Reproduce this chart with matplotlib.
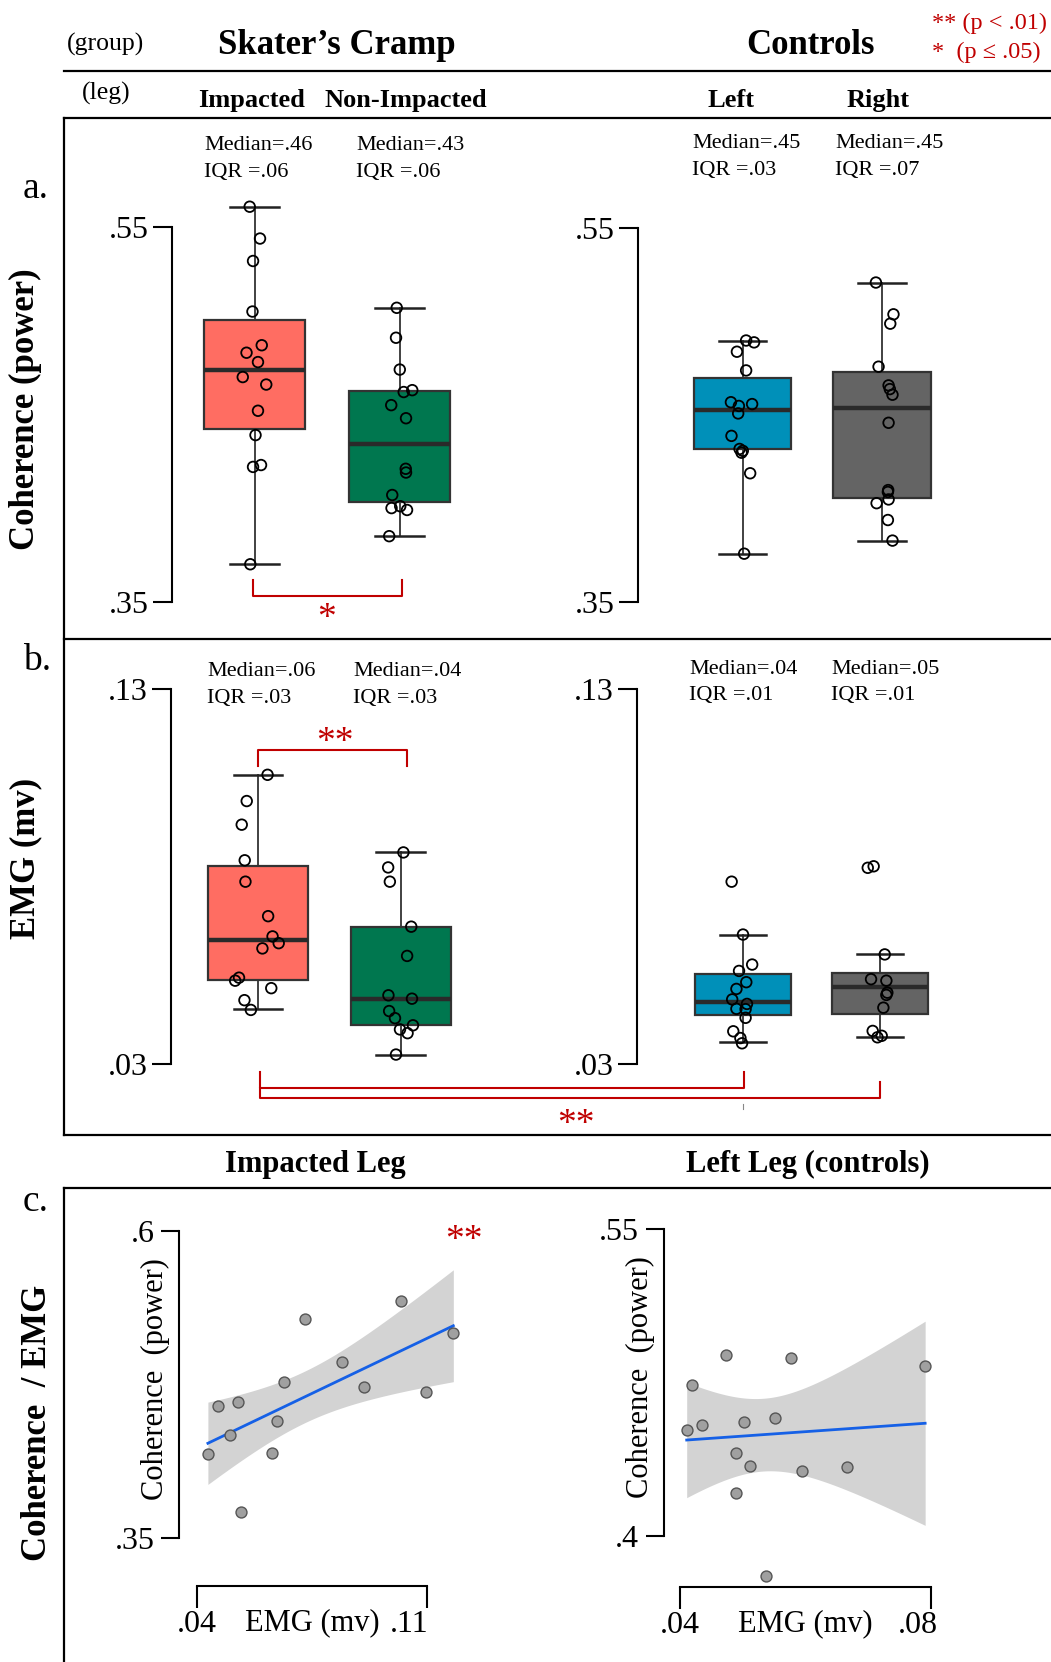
import numpy as np
import matplotlib
matplotlib.use('Agg')
import matplotlib.pyplot as plt
from matplotlib.transforms import ScaledTranslation

plt.rcParams['font.family'] = ['Liberation Serif', 'DejaVu Serif']

# ---------------- data ----------------
groups = ["Skater’s Cramp", "Controls"]
legs = ["Impacted", "Non-Impacted", "Left", "Right"]
box_colors = ['#FF6D62', '#00774F', '#0090B9', '#646464']

# panel a: coherence (power)
coh_imp = [.561, .544, .532, .505, .487, .483, .478, .470, .466, .452, .439, .422, .423, .370]
coh_imp_jit = [-.033, .038, -.010, -.014, .050, -.055, .024, -.081, .081, .024, .007, -.010, .045, -.029]
coh_non = [.507, .491, .474, .462, .463, .455, .448, .421, .419, .407, .400, .401, .399, .385]
coh_non_jit = [-.019, -.024, .002, .029, .088, -.057, .045, .043, .045, -.050, -.055, .005, .052, -.071]
coh_left = [.490, .489, .484, .474, .457, .455, .456, .451, .439, .432, .431, .430, .419, .376]
coh_left_jit = [.026, .083, -.040, .026, -.083, -.026, .069, -.031, -.079, -.021, .002, -.007, .055, .012]
coh_right = [.521, .504, .499, .476, .466, .464, .461, .446, .410, .409, .405, .403, .394, .383]
coh_right_jit = [-.043, .083, .060, -.024, .048, .057, .076, .048, .045, .043, .048, -.038, .043, .076]
coh_whislo = [.370, .385, .376, .383]
coh_q1 = [.442, .403, .432, .406]
coh_med = [.474, .434, .453, .454]
coh_q3 = [.5005, .4625, .470, .473]
coh_whishi = [.561, .507, .490, .521]
coh_median_txt = ['.46', '.43', '.45', '.45']
coh_iqr_txt = ['.06', '.06', '.03', '.07']

# panel b: EMG (mv)
emg_imp = [.1072, .1002, .0939, .0844, .0787, .0695, .0641, .0623, .0609, .0531, .0523, .0503, .0471, .0445]
emg_imp_jit = [.067, -.079, -.114, -.093, -.088, .071, .102, .145, .031, -.133, -.160, .093, -.095, -.050]
emg_non = [.0865, .0825, .0787, .0667, .0589, .0484, .0475, .0442, .0423, .0404, .0393, .0383, .0326]
emg_non_jit = [.019, -.088, -.076, .074, .045, -.086, .079, -.081, -.040, .086, -.005, .048, -.033]
emg_left = [.0787, .0646, .0566, .0549, .0519, .0501, .0473, .0461, .0448, .0447, .0424, .0388, .0370, .0356]
emg_left_jit = [-.083, 0, .067, -.029, .024, -.048, -.079, .029, -.048, .019, .019, -.071, -.019, -.007]
emg_right = [.0824, .0828, .0593, .0527, .0523, .0491, .0485, .0451, .0389, .0372, .0376]
emg_right_jit = [-.088, -.045, .036, -.064, .048, .055, .048, .026, -.052, -.017, .014]
emg_whislo = [.0447, .0325, .0359, .0373]
emg_q1 = [.0525, .0404, .0431, .0433]
emg_med = [.0631, .0475, .0467, .0505]
emg_q3 = [.0830, .0667, .0541, .0544]
emg_whishi = [.1072, .0865, .0646, .0593]
emg_median_txt = ['.06', '.04', '.04', '.05']
emg_iqr_txt = ['.03', '.03', '.01', '.01']

# panel c: coherence vs EMG
imp_emg_x = [.0434, .0464, .0501, .0525, .0535, .0629, .0644, .0665, .0730, .0840, .0908, .1020, .1096, .1179]
imp_coh_y = [.418, .4575, .4334, .4605, .3709, .4187, .4448, .4765, .5281, .4931, .4727, .5430, .4684, .5169]
left_emg_x = [.0411, .0420, .0436, .0473, .0489, .0490, .0502, .0512, .0538, .0552, .0578, .0594, .0666, .0791]
left_coh_y = [.4515, .4737, .4541, .4884, .4403, .4209, .4557, .4341, .3803, .4574, .4871, .4316, .4336, .4830]
T975 = 2.179  # t quantile, df = 12

RED = '#C00000'

# ---------------- figure ----------------
W, H = 1051, 1662
fig = plt.figure(figsize=(W / 100, H / 100), dpi=100)
bg = fig.add_axes([0, 0, 1, 1])
bg.set_xlim(0, W)
bg.set_ylim(H, 0)
bg.axis('off')


def ax_at(l, r, t, b):
    ax = fig.add_axes([l / W, 1 - b / H, (r - l) / W, (b - t) / H])
    ax.set_facecolor('none')
    return ax


def lin(p, p0, v0, p1, v1):
    return v0 + (p - p0) * (v1 - v0) / (p1 - p0)


def box_panel(l, r, t, b, c0, c1, px_hi, px_lo, vlo, vhi, labels, data, jit, idx,
              whislo, q1, med, q3, whishi):
    ax = ax_at(l, r, t, b)
    ax.set_xlim(lin(l, c0, 0, c1, 1), lin(r, c0, 0, c1, 1))
    ax.set_ylim(lin(b, px_lo, vlo, px_hi, vhi), lin(t, px_lo, vlo, px_hi, vhi))
    stats = [dict(whislo=whislo[i], q1=q1[i], med=med[i], q3=q3[i], whishi=whishi[i], fliers=[])
             for i in idx]
    bp = ax.bxp(stats, positions=[0, 1], widths=0.70, capwidths=0.34, patch_artist=True,
                showfliers=False,
                boxprops=dict(edgecolor='#333333', linewidth=1.6),
                medianprops=dict(color='#2a2a2a', linewidth=3.2),
                whiskerprops=dict(color='#333333', linewidth=1.3),
                capprops=dict(color='#222222', linewidth=1.8))
    for patch, i in zip(bp['boxes'], idx):
        patch.set_facecolor(box_colors[i])
    for k, (vals, jj) in enumerate(zip(data, jit)):
        ax.scatter(k + np.array(jj), vals, s=58, facecolors='none', edgecolors='black',
                   linewidths=1.3, zorder=5)
    for s in ['top', 'right', 'bottom']:
        ax.spines[s].set_visible(False)
    ax.spines['left'].set_bounds(vlo, vhi)
    ax.spines['left'].set_linewidth(1.5)
    ax.set_xticks([])
    ax.set_yticks([vlo, vhi], labels)
    ax.tick_params(axis='y', length=13.4, width=1.5, pad=3, labelsize=23)
    return ax


# panel a
box_panel(171.7, 500, 125, 635, 254.5, 399.5, 227.3, 601.7, .35, .55, ['.35', '.55'],
          [coh_imp, coh_non], [coh_imp_jit, coh_non_jit], [0, 1],
          coh_whislo, coh_q1, coh_med, coh_q3, coh_whishi)
box_panel(637.8, 1000, 125, 635, 742.5, 881.9, 228.3, 602.3, .35, .55, ['.35', '.55'],
          [coh_left, coh_right], [coh_left_jit, coh_right_jit], [2, 3],
          coh_whislo, coh_q1, coh_med, coh_q3, coh_whishi)
# panel b
box_panel(170.7, 500, 645, 1130, 258, 400.7, 689.3, 1064.3, .03, .13, ['.03', '.13'],
          [emg_imp, emg_non], [emg_imp_jit, emg_non_jit], [0, 1],
          emg_whislo, emg_q1, emg_med, emg_q3, emg_whishi)
box_panel(636.8, 1000, 645, 1130, 743, 879.8, 689.3, 1064.3, .03, .13, ['.03', '.13'],
          [emg_left, emg_right], [emg_left_jit, emg_right_jit], [2, 3],
          emg_whislo, emg_q1, emg_med, emg_q3, emg_whishi)


def scatter_panel(l, r, t, b, xp0, xv0, xp1, xv1, yp_hi, yv_hi, yp_lo, yv_lo,
                  xlabels, ylabels, xs, ys, last_shift, ypad):
    ax = ax_at(l, r, t, b)
    ax.set_xlim(lin(l, xp0, xv0, xp1, xv1), lin(r, xp0, xv0, xp1, xv1))
    ax.set_ylim(lin(b, yp_lo, yv_lo, yp_hi, yv_hi), lin(t, yp_lo, yv_lo, yp_hi, yv_hi))
    x = np.array(xs)
    y = np.array(ys)
    n = len(x)
    slope, icpt = np.polyfit(x, y, 1)
    xx = np.linspace(x.min(), x.max(), 200)
    yy = icpt + slope * xx
    resid = y - (icpt + slope * x)
    s = np.sqrt(np.sum(resid ** 2) / (n - 2))
    se = s * np.sqrt(1 / n + (xx - x.mean()) ** 2 / np.sum((x - x.mean()) ** 2))
    ax.fill_between(xx, yy - T975 * se, yy + T975 * se, color='#D3D3D3', lw=0, zorder=1)
    ax.plot(xx, yy, color='#1560E6', lw=2.0, zorder=2)
    ax.scatter(x, y, s=62, facecolor='#A0A0A0', edgecolor='#555555', linewidths=1.0, zorder=3)
    for sp in ['top', 'right']:
        ax.spines[sp].set_visible(False)
    ax.spines['left'].set_bounds(yv_lo, yv_hi)
    ax.spines['bottom'].set_bounds(xv0, xv1)
    ax.spines['left'].set_linewidth(1.5)
    ax.spines['bottom'].set_linewidth(1.5)
    ax.set_yticks([yv_lo, yv_hi], ylabels)
    ax.set_xticks([xv0, xv1], xlabels)
    ax.tick_params(axis='y', length=12.7, width=1.5, pad=ypad, labelsize=23)
    ax.tick_params(axis='x', length=16, width=1.5, pad=1, labelsize=23)
    lab = ax.get_xticklabels()[1]
    lab.set_transform(lab.get_transform() + ScaledTranslation(last_shift / 100, 0, fig.dpi_scale_trans))
    return ax


scatter_panel(179.3, 470, 1200, 1586, 196.7, .04, 427.3, .11, 1230.7, .6, 1537.7, .35,
              ['.04', '.11'], ['.35', '.6'], imp_emg_x, imp_coh_y, -18, 5)
scatter_panel(663.9, 960, 1200, 1587.3, 679.8, .04, 930.8, .08, 1229, .55, 1535.7, .40,
              ['.04', '.08'], ['.4', '.55'], left_emg_x, left_coh_y, -13, 5)

# ---------------- frame lines ----------------
LW = 1.6
bg.plot([63.5, W], [71, 71], color='black', lw=LW)
bg.plot([63.5, W], [117.6, 117.6], color='black', lw=LW)
bg.plot([63.5, 63.5], [117.6, 1134.7], color='black', lw=LW)
bg.plot([63.5, W], [639, 639], color='black', lw=LW)
bg.plot([63.5, W], [1134.7, 1134.7], color='black', lw=LW)
bg.plot([63.5, W], [1187.7, 1187.7], color='black', lw=LW)
bg.plot([63.5, 63.5], [1187.7, H], color='black', lw=LW)

# ---------------- header texts ----------------
bg.text(67, 44.5, '(group)', fontsize=18.5, ha='left', va='center')
bg.text(337, 45.5, groups[0], fontsize=25, fontweight='bold', ha='center', va='center')
bg.text(810, 45.5, groups[1], fontsize=25, fontweight='bold', ha='center', va='center')
bg.text(932, 23, '** (p < .01)', fontsize=17.5, color=RED, ha='left', va='center')
bg.text(932, 52, '*  (p ≤ .05)', fontsize=17.5, color=RED, ha='left', va='center')
bg.text(82, 93, '(leg)', fontsize=18.5, ha='left', va='center')
for name, cx in zip(legs, [251.6, 406, 731, 878]):
    bg.text(cx, 100.6, name, fontsize=19, fontweight='bold', ha='center', va='center')

# panel letters and row labels
bg.text(23, 198, 'a.', fontsize=27, ha='left', va='baseline')
bg.text(23, 670, 'b.', fontsize=27, ha='left', va='baseline')
bg.text(23, 1211, 'c.', fontsize=27, ha='left', va='baseline')
bg.text(25.4, 409.6, 'Coherence (power)', fontsize=25, fontweight='bold', rotation=90,
        ha='center', va='center')
bg.text(25.4, 858.7, 'EMG (mv)', fontsize=25, fontweight='bold', rotation=90,
        ha='center', va='center')
bg.text(37.5, 1423, 'Coherence  / EMG', fontsize=25, fontweight='bold', rotation=90,
        ha='center', va='center')

# median / IQR annotations
for m, q, x, y in zip(coh_median_txt, coh_iqr_txt, [204, 356, 692, 834.9], [146, 146, 144, 144]):
    bg.text(x, y, 'Median=' + m, fontsize=16, ha='left', va='center')
    bg.text(x, y + 26.5, 'IQR =' + q, fontsize=16, ha='left', va='center')
for m, q, x, y in zip(emg_median_txt, emg_iqr_txt, [207.3, 353.3, 689.3, 830.9], [671.7, 671.7, 669.3, 669.3]):
    bg.text(x, y, 'Median=' + m, fontsize=16, ha='left', va='center')
    bg.text(x, y + 26.5, 'IQR =' + q, fontsize=16, ha='left', va='center')

# significance brackets
bg.plot([253.3, 253.3, 401.7, 401.7], [580, 596, 596, 580], color=RED, lw=1.5)
bg.text(326.7, 628, '*', fontsize=27, color=RED, ha='center', va='baseline')
bg.plot([257.7, 257.7, 407.3, 407.3], [766, 750, 750, 766], color=RED, lw=1.5)
bg.text(335, 752, '**', fontsize=27, color=RED, ha='center', va='baseline')
bg.plot([260, 260, 743.5, 743.5], [1071.7, 1087.7, 1087.7, 1071.7], color=RED, lw=1.5)
bg.plot([260, 260, 880, 880], [1087.7, 1097.7, 1097.7, 1081.7], color=RED, lw=1.5)
bg.text(576, 1134, '**', fontsize=27, color=RED, ha='center', va='baseline')
bg.plot([742.8, 742.8], [1104, 1109], color='#888888', lw=0.8)

# panel c headers and axis labels
bg.text(315.7, 1164.4, 'Impacted Leg', fontsize=22, fontweight='bold', ha='center', va='center')
bg.text(808, 1164.4, 'Left Leg (controls)', fontsize=22, fontweight='bold', ha='center', va='center')
bg.text(463.5, 1250, '**', fontsize=27, color=RED, ha='center', va='baseline')
bg.text(155, 1379, 'Coherence  (power)', fontsize=22, rotation=90, ha='center', va='center')
bg.text(640.2, 1377.5, 'Coherence  (power)', fontsize=22, rotation=90, ha='center', va='center')
bg.text(312.5, 1623, 'EMG (mv)', fontsize=22, ha='center', va='center')
bg.text(805.1, 1624, 'EMG (mv)', fontsize=22, ha='center', va='center')

fig.savefig('out.png', dpi=100)
